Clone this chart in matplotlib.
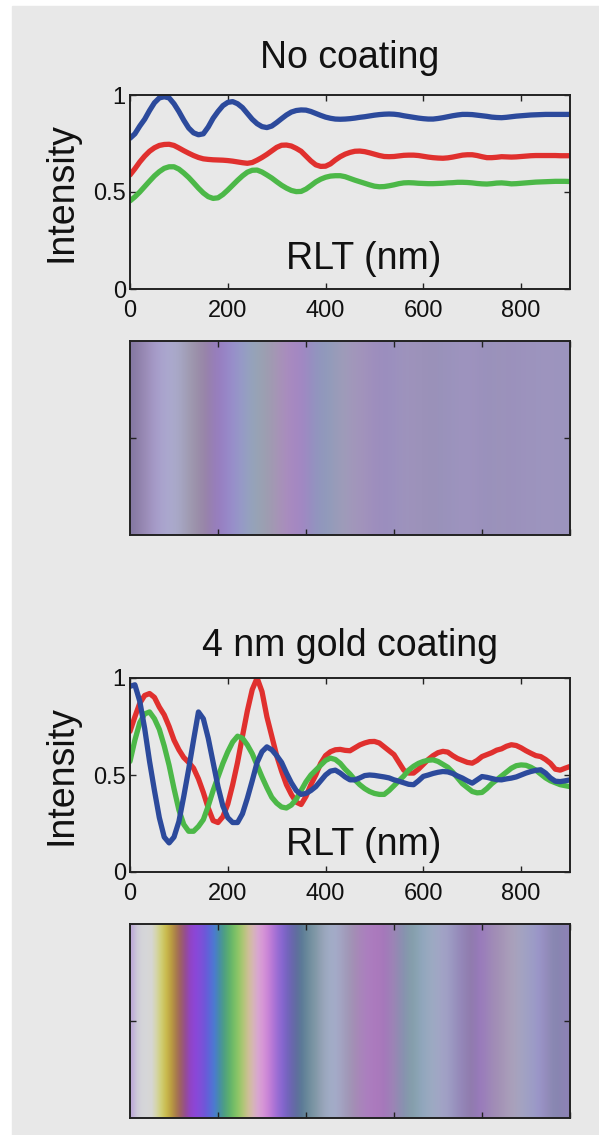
import numpy as np
import matplotlib
matplotlib.use("Agg")
import matplotlib.pyplot as plt
from matplotlib.patches import Rectangle

plt.rcParams['font.family'] = ['Liberation Sans', 'DejaVu Sans']

# RLT grid (nm) shared by all curves
rlt = np.arange(0, 901, 10)

# No coating
red_nc = [0.588, 0.62, 0.655, 0.685, 0.71, 0.728, 0.74, 0.745, 0.746, 0.74,
          0.727, 0.713, 0.70, 0.688, 0.678, 0.671, 0.668, 0.666, 0.665, 0.664,
          0.662, 0.659, 0.655, 0.651, 0.648, 0.652, 0.664, 0.678, 0.694, 0.712,
          0.73, 0.741, 0.742, 0.737, 0.725, 0.71, 0.685, 0.66, 0.64, 0.632,
          0.633, 0.645, 0.665, 0.682, 0.695, 0.704, 0.71, 0.711, 0.708, 0.702,
          0.695, 0.688, 0.683, 0.682, 0.683, 0.686, 0.689, 0.69, 0.69, 0.688,
          0.684, 0.68, 0.677, 0.675, 0.674, 0.676, 0.68, 0.685, 0.69, 0.692,
          0.692, 0.688, 0.682, 0.677, 0.677, 0.679, 0.682, 0.681, 0.68, 0.681,
          0.683, 0.685, 0.687, 0.688, 0.688, 0.688, 0.688, 0.688, 0.687, 0.687,
          0.687]
green_nc = [0.454, 0.475, 0.50, 0.528, 0.556, 0.583, 0.605, 0.622, 0.63, 0.63,
            0.618, 0.598, 0.575, 0.548, 0.52, 0.495, 0.476, 0.467, 0.47, 0.487,
            0.51, 0.535, 0.56, 0.583, 0.602, 0.612, 0.613, 0.603, 0.588, 0.572,
            0.553, 0.535, 0.52, 0.508, 0.502, 0.503, 0.515, 0.533, 0.552, 0.566,
            0.576, 0.582, 0.584, 0.584, 0.579, 0.57, 0.561, 0.553, 0.545, 0.537,
            0.53, 0.527, 0.528, 0.532, 0.537, 0.543, 0.547, 0.548, 0.547, 0.545,
            0.544, 0.543, 0.543, 0.544, 0.545, 0.547, 0.548, 0.55, 0.55, 0.549,
            0.547, 0.544, 0.542, 0.541, 0.543, 0.546, 0.547, 0.545, 0.542, 0.543,
            0.545, 0.547, 0.549, 0.551, 0.552, 0.553, 0.554, 0.555, 0.555, 0.555,
            0.554]
blue_nc = [0.777, 0.80, 0.84, 0.875, 0.92, 0.96, 0.985, 0.991, 0.985, 0.955,
           0.915, 0.87, 0.83, 0.805, 0.795, 0.80, 0.835, 0.88, 0.915, 0.945,
           0.962, 0.966, 0.955, 0.935, 0.905, 0.875, 0.852, 0.837, 0.832, 0.84,
           0.858, 0.878, 0.897, 0.912, 0.92, 0.923, 0.922, 0.915, 0.905, 0.895,
           0.886, 0.88, 0.876, 0.875, 0.876, 0.878, 0.881, 0.885, 0.888, 0.892,
           0.896, 0.899, 0.901, 0.902, 0.901, 0.898, 0.893, 0.889, 0.885, 0.881,
           0.878, 0.876, 0.876, 0.879, 0.883, 0.888, 0.893, 0.897, 0.90, 0.90,
           0.899, 0.896, 0.893, 0.89, 0.886, 0.884, 0.883, 0.885, 0.888, 0.891,
           0.893, 0.895, 0.897, 0.898, 0.899, 0.90, 0.90, 0.90, 0.90, 0.90,
           0.90]

# 4 nm gold coating
red_au = [0.725, 0.80, 0.87, 0.91, 0.92, 0.90, 0.85, 0.81, 0.75, 0.68,
          0.63, 0.59, 0.565, 0.535, 0.48, 0.41, 0.33, 0.265, 0.255, 0.285,
          0.35, 0.45, 0.565, 0.70, 0.83, 0.94, 1.00, 0.93, 0.80, 0.70,
          0.60, 0.52, 0.45, 0.40, 0.36, 0.348, 0.39, 0.45, 0.50, 0.56,
          0.60, 0.62, 0.63, 0.632, 0.627, 0.625, 0.64, 0.655, 0.665, 0.672,
          0.673, 0.665, 0.645, 0.625, 0.605, 0.565, 0.525, 0.51, 0.51, 0.53,
          0.555, 0.58, 0.60, 0.615, 0.622, 0.618, 0.60, 0.585, 0.575, 0.565,
          0.561, 0.575, 0.595, 0.605, 0.615, 0.628, 0.635, 0.648, 0.656, 0.652,
          0.64, 0.625, 0.612, 0.60, 0.595, 0.58, 0.56, 0.53, 0.525, 0.535,
          0.544]
green_au = [0.57, 0.68, 0.77, 0.815, 0.825, 0.79, 0.735, 0.65, 0.55, 0.43,
            0.32, 0.245, 0.21, 0.21, 0.235, 0.27, 0.34, 0.42, 0.49, 0.56,
            0.62, 0.67, 0.70, 0.69, 0.655, 0.61, 0.55, 0.49, 0.435, 0.385,
            0.355, 0.335, 0.33, 0.345, 0.375, 0.42, 0.465, 0.50, 0.525, 0.55,
            0.575, 0.587, 0.58, 0.56, 0.53, 0.505, 0.475, 0.45, 0.43, 0.415,
            0.405, 0.40, 0.40, 0.42, 0.445, 0.47, 0.495, 0.525, 0.545, 0.56,
            0.57, 0.576, 0.578, 0.57, 0.555, 0.54, 0.515, 0.485, 0.455, 0.435,
            0.415, 0.408, 0.41, 0.43, 0.455, 0.475, 0.495, 0.515, 0.535, 0.548,
            0.552, 0.55, 0.54, 0.525, 0.505, 0.485, 0.47, 0.46, 0.45, 0.445,
            0.44]
blue_au = [0.957, 0.965, 0.88, 0.74, 0.57, 0.42, 0.28, 0.18, 0.15, 0.18,
           0.26, 0.39, 0.53, 0.68, 0.825, 0.79, 0.69, 0.565, 0.44, 0.34,
           0.28, 0.255, 0.255, 0.30, 0.38, 0.47, 0.565, 0.62, 0.645, 0.63,
           0.60, 0.565, 0.51, 0.46, 0.42, 0.40, 0.405, 0.42, 0.44, 0.47,
           0.50, 0.52, 0.525, 0.51, 0.49, 0.475, 0.475, 0.485, 0.497, 0.50,
           0.498, 0.494, 0.49, 0.485, 0.475, 0.468, 0.46, 0.452, 0.45, 0.47,
           0.493, 0.50, 0.508, 0.514, 0.518, 0.516, 0.508, 0.495, 0.484, 0.47,
           0.458, 0.475, 0.492, 0.488, 0.482, 0.476, 0.475, 0.48, 0.484, 0.49,
           0.50, 0.51, 0.518, 0.524, 0.527, 0.51, 0.485, 0.468, 0.466, 0.47,
           0.475]

titles = ['No coating', '4 nm gold coating']
xticks = [0, 200, 400, 600, 800]
yticks = [0, 0.5, 1]

c_red = '#e0302e'
c_green = '#4cb848'
c_blue = '#2c4a9c'
bg = '#e8e8e8'
tint = np.array([0.61, 0.57, 0.75])

fig = plt.figure(figsize=(5.99, 11.35), dpi=100, facecolor='white')
fig.patches.append(Rectangle((12 / 599, 0), 1, 1 - 6 / 1135,
                             transform=fig.transFigure, color=bg, zorder=-10))

W, H = 599.0, 1135.0


def box(x0, y_top, w, h):
    return [x0 / W, 1 - (y_top + h) / H, w / W, h / H]


def style(ax):
    ax.tick_params(direction='in', top=True, right=True, length=4, width=1,
                   colors='#222222', labelcolor='#111111')
    for s in ax.spines.values():
        s.set_linewidth(1.4)
        s.set_color('#222222')


def strip_colours(r, g, b):
    # white-balance each channel on its mean, then soften highlights
    rgb = np.stack([r, g, b], axis=-1)
    col = rgb / rgb.mean(axis=0) * tint
    lum = col.mean(axis=-1, keepdims=True)
    col = lum + 0.9 * (col - lum)
    knee = 0.72
    col = np.where(col > knee, knee + 0.13 * np.tanh((col - knee) / 0.13), col)
    return np.clip(col, 0, 1)


panels = [
    (95, 341, titles[0], (red_nc, green_nc, blue_nc), 0.105, 1.139),
    (678, 924, titles[1], (red_au, green_au, blue_au), 0.088, 1.111),
]

for top, strip_top, title, (r, g, b), lab_y, tit_y in panels:
    ax = fig.add_axes(box(130, top, 440, 194))
    ax.set_facecolor(bg)
    for vals, c in ((r, c_red), (g, c_green), (b, c_blue)):
        ax.plot(rlt, vals, color=c, lw=3.8, solid_joinstyle='round',
                solid_capstyle='round')
    ax.set_xlim(0, 900)
    ax.set_ylim(0, 1)
    ax.set_xticks(xticks)
    ax.set_xticklabels([str(v) for v in xticks])
    ax.set_yticks(yticks)
    ax.set_yticklabels(['0', '0.5', '1'])
    style(ax)
    ax.tick_params(axis='x', labelsize=17, pad=8)
    ax.tick_params(axis='y', labelsize=17, pad=3)
    ax.text(0.53, lab_y, 'RLT (nm)', transform=ax.transAxes, fontsize=27,
            ha='center', va='baseline', color='#111111')
    ax.text(0.5, tit_y, title, transform=ax.transAxes, fontsize=27,
            ha='center', va='baseline', color='#111111')
    ax.set_ylabel('Intensity', fontsize=27, color='#111111', labelpad=10)

    sx = fig.add_axes(box(130, strip_top, 440, 194))
    sx.imshow(strip_colours(r, g, b)[np.newaxis, :, :], aspect='auto',
              interpolation='bilinear', extent=(0, 900, 0, 1))
    sx.set_xlim(0, 900)
    sx.set_ylim(0, 1)
    sx.set_xticks([180, 360, 540, 720, 900])
    sx.set_yticks([0.5])
    sx.set_xticklabels([])
    sx.set_yticklabels([])
    style(sx)

fig.savefig('out.png', dpi=100, facecolor='white')
